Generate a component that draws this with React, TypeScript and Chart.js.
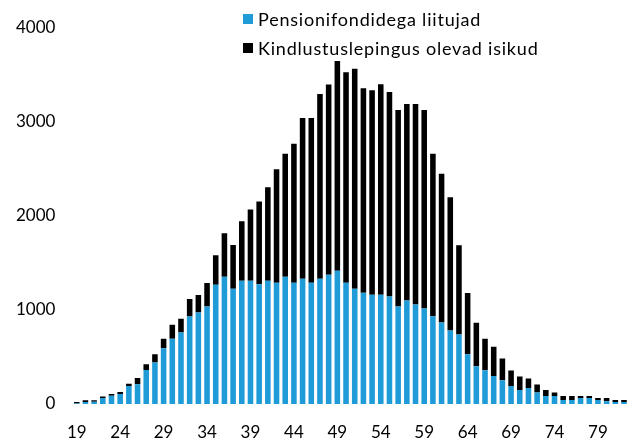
import React, { useEffect, useRef } from "react";
import { Chart, registerables } from "chart.js";

Chart.register(...registerables);

const ages: string[] = [
  "19","20","21","22","23","24","25","26","27","28","29","30","31","32","33","34",
  "35","36","37","38","39","40","41","42","43","44","45","46","47","48","49","50",
  "51","52","53","54","55","56","57","58","59","60","61","62","63","64","65","66",
  "67","68","69","70","71","72","73","74","75","76","77","78","79","80","81","82",
];

const pensionFunds: number[] = [
  5, 20, 25, 63, 88, 105, 190, 210, 360, 440, 591, 693, 760, 929, 971, 1034,
  1266, 1351, 1224, 1309, 1309, 1270, 1309, 1288, 1351, 1288, 1330, 1288, 1330, 1372, 1414, 1288,
  1224, 1182, 1161, 1161, 1140, 1034, 1098, 1055, 1013, 932, 865, 781, 739, 528, 401, 359,
  296, 253, 190, 148, 169, 123, 84, 84, 42, 42, 63, 63, 42, 28, 21, 21,
];

const insuranceContracts: number[] = [
  15, 20, 15, 17, 17, 22, 25, 65, 62, 88, 102, 148, 144, 186, 187, 250,
  314, 461, 465, 630, 756, 879, 992, 1203, 1305, 1474, 1706, 1748, 1960, 2019, 2227, 2233,
  2336, 2171, 2171, 2234, 2171, 2087, 2086, 2129, 2108, 1724, 1580, 1414, 946, 651, 461, 334,
  313, 229, 165, 144, 102, 85, 64, 39, 42, 42, 21, 21, 21, 35, 21, 21,
];

const yTicks: number[] = [0, 1000, 2000, 3000, 4000];
const shownAgeLabels: string[] = ["19", "24", "29", "34", "39", "44", "49", "54", "59", "64", "69", "74", "79"];

const seriesNames: string[] = ["Pensionifondidega liitujad", "Kindlustuslepingus olevad isikud"];
const seriesColors: string[] = ["#1f9bd8", "#000000"];

const FONT = "Lato, 'Open Sans', sans-serif";

export default function App() {
  const canvasRef = useRef<HTMLCanvasElement | null>(null);

  useEffect(() => {
    const canvas = canvasRef.current;
    if (!canvas) return;
    const chart = new Chart(canvas, {
      type: "bar",
      data: {
        labels: ages,
        datasets: [
          {
            label: seriesNames[0],
            data: pensionFunds,
            backgroundColor: seriesColors[0],
            barPercentage: 0.64,
            categoryPercentage: 1,
          },
          {
            label: seriesNames[1],
            data: insuranceContracts,
            backgroundColor: seriesColors[1],
            barPercentage: 0.64,
            categoryPercentage: 1,
          },
        ],
      },
      options: {
        animation: false,
        responsive: false,
        maintainAspectRatio: false,
        devicePixelRatio: 1,
        layout: { padding: { top: 25, left: 0, right: 0, bottom: 0 } },
        plugins: {
          legend: { display: false },
          tooltip: { enabled: false },
        },
        scales: {
          x: {
            stacked: true,
            grid: { display: false, drawTicks: false },
            border: { display: false },
            afterFit: (scale: any) => {
              scale.height = 38;
            },
            ticks: {
              autoSkip: false,
              maxRotation: 0,
              minRotation: 0,
              padding: 18,
              color: "#000",
              font: { family: FONT, size: 17 },
              callback: function (_v: any, i: number) {
                const l = ages[i];
                return shownAgeLabels.includes(l) ? l : "";
              },
            },
          },
          y: {
            stacked: true,
            min: yTicks[0],
            max: yTicks[yTicks.length - 1],
            grid: { display: false, drawTicks: false },
            border: { display: false },
            afterFit: (scale: any) => {
              scale.width = 72.4;
            },
            afterBuildTicks: (scale: any) => {
              scale.ticks = yTicks.map((v) => ({ value: v }));
            },
            ticks: {
              padding: 17,
              color: "#000",
              font: { family: FONT, size: 17 },
              callback: (v: any) => String(v),
            },
          },
        },
      },
    });
    return () => chart.destroy();
  }, []);

  return (
    <div style={{ position: "fixed", left: 0, top: 0, width: 642, height: 442, background: "#fff" }}>
      <canvas ref={canvasRef} width={642} height={442} style={{ display: "block", width: 642, height: 442 }} />
      {seriesNames.map((name, i) => (
        <div
          key={name}
          style={{
            position: "absolute",
            left: 243,
            top: 7 + i * 29,
            height: 24,
            display: "flex",
            alignItems: "center",
            fontFamily: FONT,
            fontSize: 18,
            letterSpacing: 0.8,
            color: "#000",
            whiteSpace: "nowrap",
          }}
        >
          <span style={{ display: "inline-block", width: 10, height: 10, background: seriesColors[i], marginRight: 5 }} />
          <span>{name}</span>
        </div>
      ))}
    </div>
  );
}
